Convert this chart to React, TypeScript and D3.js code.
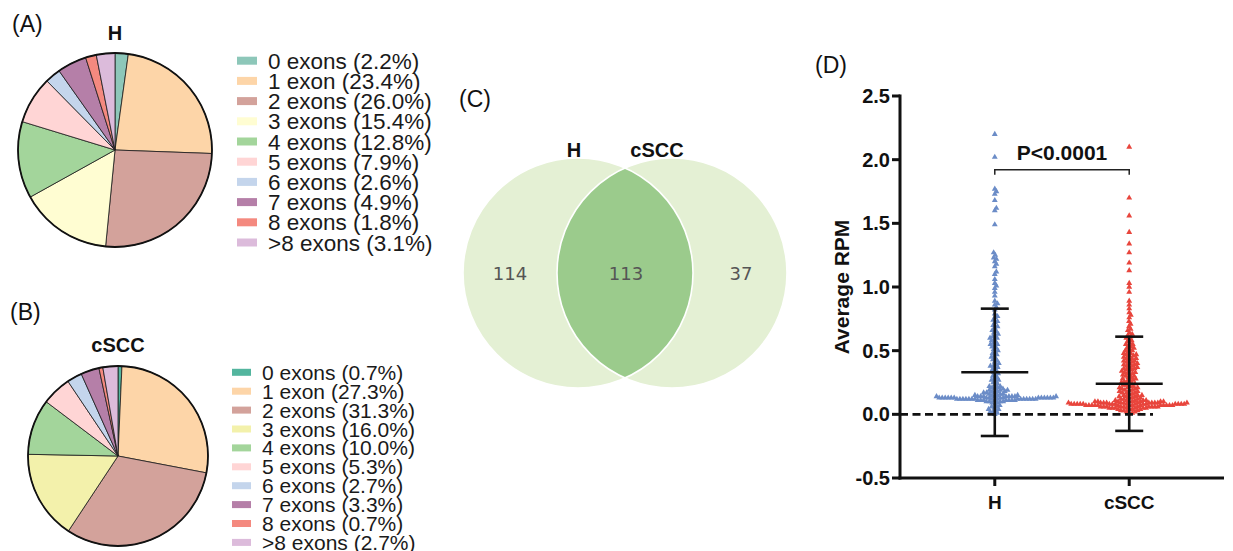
import React from 'react'
import * as d3 from 'd3'

// ---- pies (A, B)
const exonLabels = ['0 exons', '1 exon', '2 exons', '3 exons', '4 exons', '5 exons', '6 exons', '7 exons', '8 exons', '>8 exons']
const hPercent = [2.2, 23.4, 26.0, 15.4, 12.8, 7.9, 2.6, 4.9, 1.8, 3.1]
const cPercent = [0.7, 27.3, 31.3, 16.0, 10.0, 5.3, 2.7, 3.3, 0.7, 2.7]
const hColors = ['#8dc7b9', '#fdd5a8', '#d3a29b', '#fffdd2', '#a3d59b', '#ffd5d5', '#c4d5ec', '#b57fa8', '#f4897f', '#dcbbdb']
const cColors = ['#53b59e', '#fdd5a8', '#d3a29b', '#f3f1ab', '#a3d59b', '#ffd5d5', '#c4d5ec', '#b57fa8', '#f4897f', '#dcbbdb']

// ---- venn (C)
const vennNames = ['H', 'cSCC']
const vennCounts = [114, 113, 37]

// ---- scatter (D)
const groups = ['H', 'cSCC']
const hHigh = [2.20, 2.02, 1.77, 1.75, 1.73, 1.68, 1.62, 1.60, 1.49, 1.27, 1.25, 1.23, 1.22, 1.20, 1.18, 1.16,
  1.12, 1.10, 1.06, 1.03, 1.01, 0.99, 0.96, 0.93, 0.89, 0.87, 0.86, 0.84]
const hMid = [0.82, 0.79, 0.77, 0.76, 0.74, 0.73, 0.72, 0.70, 0.69, 0.68, 0.66, 0.65, 0.64, 0.63, 0.62, 0.61,
  0.60, 0.60, 0.59, 0.58, 0.57, 0.56, 0.55, 0.55, 0.54, 0.53, 0.52, 0.51, 0.50, 0.49, 0.48, 0.47, 0.46, 0.45,
  0.44, 0.43, 0.42, 0.41, 0.40, 0.39, 0.38, 0.38, 0.37, 0.36, 0.35, 0.34, 0.33, 0.32, 0.31, 0.30, 0.29, 0.28,
  0.27, 0.27, 0.26, 0.25, 0.24, 0.23, 0.22, 0.22, 0.21, 0.20, 0.20, 0.19, 0.19, 0.18, 0.18, 0.17, 0.17, 0.16,
  0.21, 0.19, 0.18, 0.17, 0.16]
const hBand = [0.13, 0.12, 0.14, 0.11, 0.13, 0.12, 0.15, 0.10, 0.13, 0.12, 0.14, 0.11, 0.12, 0.13, 0.09, 0.14,
  0.12, 0.13, 0.11, 0.15, 0.12, 0.13, 0.14, 0.10, 0.12, 0.13, 0.11, 0.14, 0.12, 0.16, 0.13, 0.12, 0.10, 0.14,
  0.13, 0.11, 0.12, 0.15, 0.13, 0.12, 0.14, 0.11, 0.13, 0.12, 0.09, 0.13, 0.14, 0.12, 0.11, 0.13, 0.15, 0.12,
  0.13, 0.10, 0.14, 0.12, 0.13, 0.11, 0.12, 0.14, 0.08, 0.13]
const hLow = [0.07, 0.06, 0.06, 0.05, 0.04, 0.04, 0.03, 0.02, 0.02, 0.01, 0.00]

const cHigh = [2.10, 1.70, 1.56, 1.43, 1.34, 1.27, 1.19, 1.13, 1.03, 1.00, 0.96, 0.89, 0.86, 0.83, 0.80, 0.78,
  0.76, 0.73, 0.71, 0.69, 0.67, 0.66, 0.64, 0.63]
const cMid = [0.62, 0.61, 0.60, 0.59, 0.58, 0.57, 0.56, 0.55, 0.55, 0.54, 0.53, 0.52, 0.52, 0.51, 0.50, 0.50,
  0.49, 0.48, 0.48, 0.47, 0.46, 0.46, 0.45, 0.44, 0.44, 0.43, 0.42, 0.42, 0.41, 0.40, 0.40, 0.39, 0.38, 0.38,
  0.37, 0.36, 0.36, 0.35, 0.34, 0.34, 0.33, 0.32, 0.32, 0.31, 0.30, 0.30, 0.29, 0.28, 0.28, 0.27, 0.26, 0.26,
  0.25, 0.24, 0.24, 0.23, 0.22, 0.22, 0.21, 0.21, 0.20, 0.20, 0.19, 0.19, 0.18, 0.18, 0.17, 0.17, 0.16, 0.16,
  0.15, 0.15, 0.14, 0.14, 0.47, 0.44, 0.41, 0.39, 0.37, 0.35, 0.33, 0.31, 0.29, 0.27, 0.25, 0.23, 0.21, 0.19,
  0.17, 0.15, 0.14, 0.13]
const cBand = [0.08, 0.07, 0.09, 0.06, 0.10, 0.05, 0.08, 0.11, 0.07, 0.04, 0.09, 0.08, 0.06, 0.12, 0.03, 0.07,
  0.10, 0.08, 0.05, 0.09, 0.02, 0.08, 0.11, 0.06, 0.07, 0.09, 0.04, 0.10, 0.08, 0.13, 0.06, 0.07, 0.01, 0.09,
  0.05, 0.08, 0.12, 0.07, 0.03, 0.10, 0.08, 0.06, 0.09, 0.07, 0.11, 0.05, 0.08, 0.04, 0.10, 0.07, 0.09, 0.06,
  0.08, 0.02, 0.07, 0.12, 0.09, 0.05, 0.08, 0.10, 0.06, 0.07, 0.11, 0.08, 0.03, 0.09, 0.07, 0.06, 0.10, 0.08,
  0.05, 0.09, 0.07, 0.04, 0.08, 0.13, 0.06, 0.10, 0.07, 0.09, 0.08, 0.01, 0.06, 0.11, 0.07, 0.09, 0.05, 0.08]

const hRPM = [...hHigh, ...hMid, ...hBand, ...hLow]
const cRPM = [...cHigh, ...cMid, ...cBand]
const meanRPM = [0.33, 0.24]
const sdRPM = [0.50, 0.37]
const yTicks = [-0.5, 0.0, 0.5, 1.0, 1.5, 2.0, 2.5]
const pText = 'P<0.0001'

const FONT = 'Liberation Sans, Arial, sans-serif'

function beeswarm(values: number[], y: (v: number) => number, cx: number, d: number) {
  const pts = values.map(v => ({ v, y: y(v), x: 0 })).sort((a, b) => b.y - a.y)
  const placed: { x: number; y: number }[] = []
  for (const p of pts) {
    const cands = [0]
    for (const q of placed) {
      const dy = Math.abs(q.y - p.y)
      if (dy < d) {
        const dx = Math.sqrt(d * d - dy * dy)
        cands.push(q.x + dx, q.x - dx)
      }
    }
    cands.sort((a, b) => Math.abs(a) - Math.abs(b))
    let best = 0
    for (const c of cands) {
      if (placed.every(q => (q.x - c) ** 2 + (q.y - p.y) ** 2 >= d * d - 0.01)) { best = c; break }
    }
    p.x = best
    placed.push(p)
  }
  return pts.map(p => ({ v: p.v, y: p.y, x: cx + p.x }))
}

function PiePanel(props: {
  cx: number; cy: number; r: number; values: number[]; colors: string[]; title: string; titleY: number
  legX: number; legY: number; rowH: number; font: number; swW: number; swH: number
}) {
  const { cx, cy, r, values, colors, title, titleY, legX, legY, rowH, font, swW, swH } = props
  const arcs = d3.pie<number>().sort(null).value(d => d)(values)
  const arc = d3.arc<d3.PieArcDatum<number>>().innerRadius(0).outerRadius(r)
  return (
    <g>
      <text x={cx} y={titleY} textAnchor="middle" fontFamily={FONT} fontWeight="bold" fontSize={20} fill="#111">{title}</text>
      <g transform={`translate(${cx},${cy})`}>
        {arcs.map((a, i) => (
          <path key={i} d={arc(a) || ''} fill={colors[i]} stroke="#1a1a1a" strokeWidth={0.8} />
        ))}
        <circle r={r} fill="none" stroke="#111" strokeWidth={1.8} />
      </g>
      {values.map((v, i) => (
        <g key={i} transform={`translate(${legX},${legY + i * rowH})`}>
          <rect x={0} y={-swH / 2} width={swW} height={swH} fill={colors[i]} />
          <text x={swW + 11} y={font * 0.36} fontFamily={FONT} fontSize={font} fill="#1a1a1a">
            {`${exonLabels[i]} (${v.toFixed(1)}%)`}
          </text>
        </g>
      ))}
    </g>
  )
}

function Venn() {
  const cy = 273, r = 115
  const cxs = [578, 672]
  const d = cxs[1] - cxs[0]
  const mx = (cxs[0] + cxs[1]) / 2
  const h = Math.sqrt(r * r - (d / 2) * (d / 2))
  const lens = `M${mx},${cy - h} A${r},${r} 0 0 1 ${mx},${cy + h} A${r},${r} 0 0 1 ${mx},${cy - h}Z`
  const numX = [510, 626, 741]
  return (
    <g>
      {cxs.map((x, i) => <circle key={i} cx={x} cy={cy} r={r} fill="#e4f0d4" />)}
      <path d={lens} fill="#9bcb8c" />
      {cxs.map((x, i) => <circle key={'o' + i} cx={x} cy={cy} r={r} fill="none" stroke="#fff" strokeWidth={1.6} />)}
      <text x={574} y={157} textAnchor="middle" fontFamily={FONT} fontWeight="bold" fontSize={20} fill="#111">{vennNames[0]}</text>
      <text x={657} y={157} textAnchor="middle" fontFamily={FONT} fontWeight="bold" fontSize={20} fill="#111">{vennNames[1]}</text>
      {vennCounts.map((c, i) => (
        <text key={i} x={numX[i]} y={cy + 6.5} textAnchor="middle" fontFamily="DejaVu Sans, sans-serif" fontSize={18} fill="#555">{c}</text>
      ))}
    </g>
  )
}

function Scatter() {
  const y = d3.scaleLinear().domain([-0.5, 2.5]).range([478, 96])
  const x = d3.scalePoint<string>().domain(groups).range([900, 1224]).padding(0.705)
  const tri = d3.symbol().type(d3.symbolTriangle).size(15)() || ''
  const series = [
    { data: hRPM, color: '#6b8cc7' },
    { data: cRPM, color: '#e8453c' },
  ]
  const x0 = 900, x1 = 1224, yBase = 478
  const px = groups.map(g => x(g) as number)
  const bracketY = y(1.92)
  return (
    <g fontFamily={FONT}>
      {series.map((s, si) => (
        <g key={si} fill={s.color}>
          {beeswarm(s.data, y, px[si], 3).map((p, i) => (
            <path key={i} d={tri} transform={`translate(${p.x},${p.y})`} />
          ))}
        </g>
      ))}
      <line x1={x0} x2={1153} y1={y(0)} y2={y(0)} stroke="#111" strokeWidth={2.6} strokeDasharray="8,4.5" />
      {groups.map((g, i) => {
        const cx = px[i], m = meanRPM[i], s = sdRPM[i]
        const meanW = 33.5, capW = 14
        return (
          <g key={g} stroke="#111" strokeWidth={2.6}>
            <line x1={cx} x2={cx} y1={y(m - s)} y2={y(m + s)} />
            <line x1={cx - meanW} x2={cx + meanW} y1={y(m)} y2={y(m)} />
            <line x1={cx - capW} x2={cx + capW} y1={y(m + s)} y2={y(m + s)} />
            <line x1={cx - capW} x2={cx + capW} y1={y(m - s)} y2={y(m - s)} />
          </g>
        )
      })}
      {/* axes */}
      <line x1={x0} x2={x0} y1={y(2.5) - 1.5} y2={yBase + 1.5} stroke="#111" strokeWidth={3} />
      <line x1={x0 - 1.5} x2={x1} y1={yBase} y2={yBase} stroke="#111" strokeWidth={3} />
      {yTicks.map(t => (
        <g key={t}>
          <line x1={x0 - 8} x2={x0} y1={y(t)} y2={y(t)} stroke="#111" strokeWidth={3} />
          <text x={x0 - 10} y={y(t) + 7} textAnchor="end" fontWeight="bold" fontSize={20} fill="#111">{t.toFixed(1)}</text>
        </g>
      ))}
      {groups.map((g, i) => (
        <g key={g}>
          <line x1={px[i]} x2={px[i]} y1={yBase} y2={yBase + 8} stroke="#111" strokeWidth={3} />
          <text x={px[i]} y={509} textAnchor="middle" fontWeight="bold" fontSize={19} fill="#111">{g}</text>
        </g>
      ))}
      <text transform="translate(849,287) rotate(-90)" textAnchor="middle" fontWeight="bold" fontSize={21} fill="#111">Average RPM</text>
      {/* significance bracket */}
      <path d={`M${px[0]},${bracketY + 5}V${bracketY}H${px[1]}V${bracketY + 5}`} fill="none" stroke="#222" strokeWidth={1.5} />
      <text x={(px[0] + px[1]) / 2} y={160} textAnchor="middle" fontWeight="bold" fontSize={21} fill="#111">{pText}</text>
    </g>
  )
}

export default function App() {
  return (
    <>
      <style>{'body{margin:0}'}</style>
      <svg width={1233} height={551} style={{ display: 'block', background: '#fff' }}>
        <rect width={1233} height={551} fill="#fff" />
        <g fontFamily={FONT} fontSize={23} fill="#111">
          <text x={12} y={32}>(A)</text>
          <text x={10} y={320}>(B)</text>
          <text x={459} y={107}>(C)</text>
          <text x={815} y={73}>(D)</text>
        </g>
        <PiePanel cx={115} cy={150} r={97} values={hPercent} colors={hColors} title="H" titleY={40}
          legX={237} legY={60.7} rowH={20.2} font={22.5} swW={20} swH={8} />
        <PiePanel cx={118} cy={456} r={90} values={cPercent} colors={cColors} title="cSCC" titleY={352}
          legX={232} legY={372.3} rowH={18.9} font={21} swW={19} swH={7} />
        <Venn />
        <Scatter />
      </svg>
    </>
  )
}
